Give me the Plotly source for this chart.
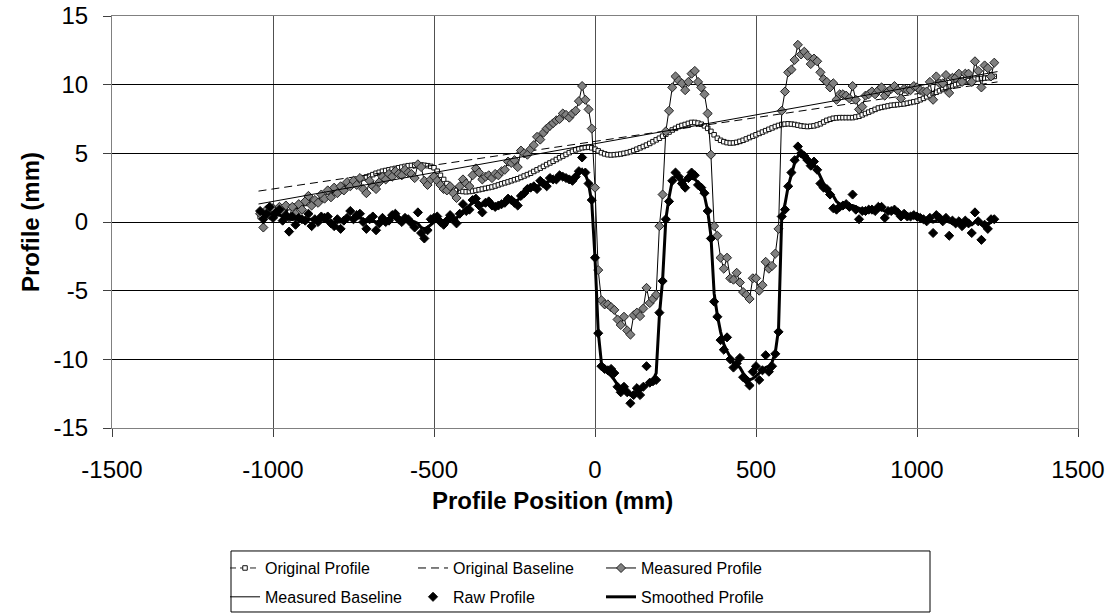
import plotly.graph_objects as go

# ---------------- data ----------------
profile_pos = list(range(-1040, 1250, 10))          # mm, sampling positions

measured_profile = [
    0.6, -0.4, 0.9, 0.5, 1.0, 0.6, 1.1, 0.7, 1.2, 0.3,
    1.1, 0.6, 1.3, 0.9, 1.5, 1.9, 1.2, 1.6, 1.4, 2.0,
    1.7, 2.3, 1.8, 2.5, 2.1, 2.6, 2.3, 2.9, 2.6, 3.0,
    2.7, 3.2, 2.4, 2.1, 3.0, 2.6, 2.4, 2.9, 3.3, 3.1,
    3.5, 3.3, 3.7, 3.5, 3.4, 3.8, 3.6, 3.5, 3.2, 4.2,
    4.0, 3.0, 2.7, 3.1, 3.3, 3.0, 2.7, 2.4, 2.3, 2.6,
    2.1, 1.75, 2.6, 3.1, 2.8, 2.6, 3.4, 3.9, 3.6, 3.1,
    3.3, 3.4, 3.2, 3.5, 3.4, 3.7, 3.8, 4.4, 4.3, 4.5,
    4.0, 5.2, 5.0, 4.9, 5.3, 5.6, 6.2, 6.0, 6.5, 6.8,
    7.0, 7.2, 7.4, 7.5, 7.9, 7.8, 7.6, 7.9, 8.1, 8.8,
    9.9, 8.9, 8.2, 6.8, 2.5, -3.5, -5.7, -6.0, -6.0, -6.2,
    -6.4, -7.1, -7.5, -6.9, -7.9, -8.2, -6.8, -6.6, -6.85, -6.3,
    -4.8, -5.9, -5.6, -5.3, -0.3, 2.0, 6.6, 8.1, 9.8, 10.6,
    10.3, 10.1, 9.6, 10.2, 10.8, 11.0, 10.2, 9.8, 9.3, 7.9,
    4.9, -0.3, -1.0, -2.6, -3.4, -2.6, -4.1, -4.2, -3.7, -4.4,
    -5.1, -5.3, -5.6, -4.1, -4.1, -5.0, -4.6, -2.9, -3.4, -3.2,
    -2.3, -0.5, 8.1, 9.5, 10.9, 11.1, 11.8, 12.9, 12.2, 12.4,
    12.1, 11.5, 11.9, 11.7, 10.9, 10.4, 10.2, 9.8, 10.1, 8.9,
    9.3, 9.3, 9.2, 9.0, 9.9, 8.9, 8.2, 8.4, 9.2, 9.3,
    9.5, 9.3, 9.6, 9.8, 9.2, 9.5, 9.7, 9.9, 9.6, 9.0,
    9.7, 9.6, 9.6, 9.9, 9.8, 9.6, 9.5, 9.5, 10.2, 8.9,
    10.6, 10.1, 10.1, 10.7, 9.4, 10.5, 10.5, 10.8, 10.2, 10.8,
    10.8, 10.2, 11.7, 11.0, 9.8, 11.4, 11.2, 10.6, 11.6,
]

raw_profile = [
    0.8, 0.2, 0.6, 1.1, 0.3, 0.7, 0.9, 0.1, 0.5, -0.7,
    0.4, -0.2, 0.3, 0.2, 0.1, 0.6, -0.3, 0.2, 0.0, 0.4,
    0.3, 0.4, -0.1, -0.3, 0.2, -0.5, 0.1, 0.3, 0.8, 0.2,
    0.5, 0.6, 0.0, -0.5, 0.2, 0.4, -0.6, -0.1, 0.3, 0.0,
    0.1, 0.5, 0.6, 0.2, 0.0, 0.3, 0.2, -0.1, -0.4, 0.7,
    -0.8, -1.2, -0.6, 0.2, 0.3, 0.4, 0.0, -0.2, 0.1, 0.5,
    0.2, -0.1, 0.6, 1.3, 0.8, 0.9, 1.6, 1.7, 1.2, 0.7,
    1.4, 1.5, 1.2, 1.1, 1.2, 1.3, 1.4, 1.7, 1.6, 1.4,
    1.2, 1.9, 2.1, 2.4, 2.5, 2.6, 2.4, 3.0, 2.8, 2.6,
    3.2, 3.1, 3.1, 3.4, 3.3, 3.2, 3.1, 3.0, 3.3, 3.7,
    4.7, 3.6, 2.8, 1.6, -2.6, -8.1, -10.5, -10.7, -10.8, -10.7,
    -11.0, -12.0, -12.4, -12.0, -12.4, -13.2, -12.6, -12.1, -12.6, -12.0,
    -10.5, -11.7, -11.6, -11.5, -6.6, -4.3, 0.2, 1.5, 3.0, 3.6,
    3.3, 2.8, 2.5, 3.2, 3.6, 3.4, 2.7, 2.5, 2.1, 0.8,
    -1.2, -5.8, -6.9, -8.6, -9.3, -8.4, -10.0, -10.6, -10.3, -9.9,
    -11.3, -11.5, -11.9, -10.9, -10.5, -11.5, -10.8, -9.7, -10.9, -10.5,
    -9.6, -8.0, 0.4, 0.9, 2.6, 3.6, 4.5, 5.5, 5.0, 4.8,
    4.5, 4.1, 4.4, 3.8, 2.8, 2.5, 2.4, 2.0, 1.0, 0.9,
    1.1, 1.2, 1.3, 1.1, 2.0, 0.9, 0.2, 0.8, 0.8, 0.9,
    0.9, 0.8, 1.1, 1.1, 0.3, 0.8, 0.8, 0.9, 0.7, 0.4,
    0.6, 0.4, 0.4, 0.5, 0.4, 0.3, 0.2, 0.05, 0.3, -0.8,
    0.5, 0.3, 0.05, 0.3, -1.0, 0.1, -0.1, 0.05, -0.3, 0.1,
    -0.1, -0.8, 0.7, 0.05, -1.3, -0.2, -0.5, 0.2, 0.2,
]

smoothed_profile = [
    0.6, 0.6, 0.6, 0.6, 0.6, 0.6, 0.5, 0.4, 0.3, 0.2,
    0.2, 0.2, 0.2, 0.2, 0.2, 0.2, 0.2, 0.2, 0.2, 0.2,
    0.1, 0.1, 0.0, 0.0, 0.0, 0.0, 0.1, 0.2, 0.3, 0.3,
    0.3, 0.3, 0.2, 0.1, 0.1, 0.1, 0.0, 0.0, 0.1, 0.1,
    0.2, 0.3, 0.3, 0.3, 0.2, 0.2, 0.1, 0.1, 0.0, -0.1,
    -0.4, -0.5, -0.4, -0.2, 0.0, 0.1, 0.1, 0.1, 0.1, 0.2,
    0.2, 0.3, 0.5, 0.8, 1.0, 1.2, 1.4, 1.4, 1.3, 1.2,
    1.3, 1.3, 1.3, 1.3, 1.3, 1.3, 1.4, 1.5, 1.5, 1.5,
    1.6, 1.8, 2.0, 2.3, 2.4, 2.5, 2.6, 2.7, 2.8, 2.9,
    3.0, 3.1, 3.2, 3.3, 3.3, 3.2, 3.2, 3.2, 3.3, 3.5,
    3.8, 3.5, 2.8, 1.4, -2.6, -8.0, -10.3, -10.8, -11.0, -11.2,
    -11.5, -11.9, -12.2, -12.3, -12.5, -12.6, -12.5, -12.4, -12.3, -12.1,
    -11.9, -11.7, -11.5, -11.0, -6.8, -4.2, 0.2, 1.8, 3.0, 3.4,
    3.3, 3.1, 3.0, 3.1, 3.2, 3.1, 2.9, 2.5, 1.9, 0.8,
    -1.0, -5.2, -6.8, -8.0, -8.9, -9.4, -9.9, -10.3, -10.4, -10.6,
    -11.0, -11.3, -11.5, -11.4, -11.2, -11.0, -10.8, -10.6, -10.5, -10.2,
    -9.5, -7.8, 0.4, 1.3, 2.6, 3.5, 4.3, 4.8, 4.9, 4.8,
    4.6, 4.4, 4.2, 3.8, 3.3, 2.8, 2.5, 2.2, 1.9, 1.5,
    1.3, 1.2, 1.2, 1.2, 1.2, 1.1, 1.0, 0.9, 0.8, 0.8,
    0.8, 0.8, 0.9, 0.9, 0.8, 0.8, 0.8, 0.7, 0.7, 0.6,
    0.5, 0.5, 0.4, 0.4, 0.4, 0.3, 0.2, 0.2, 0.1, 0.0,
    0.1, 0.2, 0.1, 0.1, 0.0, -0.1, -0.1, -0.1, -0.1, -0.1,
    -0.2, -0.2, 0.0, 0.0, -0.2, -0.3, -0.2, 0.0, 0.1,
]

original_profile = [
    0.4, 0.5, 0.6, 0.7, 0.8, 0.85, 0.9, 0.95, 1.0, 1.05,
    1.1, 1.15, 1.2, 1.28, 1.35, 1.4, 1.45, 1.5, 1.55, 1.65,
    1.75, 1.88, 2.0, 2.12, 2.25, 2.38, 2.5, 2.62, 2.75, 2.88,
    3.0, 3.1, 3.2, 3.28, 3.35, 3.45, 3.55, 3.62, 3.7, 3.75,
    3.8, 3.85, 3.9, 3.95, 4.0, 4.05, 4.1, 4.12, 4.15, 4.16,
    4.15, 4.13, 4.1, 4.05, 3.95, 3.7, 3.4, 3.1, 2.8, 2.58,
    2.4, 2.3, 2.25, 2.22, 2.2, 2.22, 2.25, 2.3, 2.35, 2.4,
    2.45, 2.5, 2.55, 2.62, 2.7, 2.78, 2.85, 2.92, 3.0, 3.08,
    3.15, 3.25, 3.35, 3.45, 3.55, 3.68, 3.8, 3.92, 4.05, 4.18,
    4.3, 4.42, 4.55, 4.68, 4.8, 4.92, 5.05, 5.15, 5.25, 5.33,
    5.4, 5.43, 5.45, 5.4, 5.3, 5.18, 5.05, 4.96, 4.9, 4.88,
    4.9, 4.92, 4.95, 5.0, 5.05, 5.12, 5.2, 5.3, 5.4, 5.5,
    5.6, 5.72, 5.85, 5.98, 6.1, 6.25, 6.4, 6.55, 6.7, 6.82,
    6.95, 7.03, 7.1, 7.18, 7.25, 7.25, 7.2, 7.12, 7.0, 6.82,
    6.6, 6.35, 6.1, 5.95, 5.85, 5.78, 5.75, 5.76, 5.8, 5.87,
    5.95, 6.05, 6.15, 6.25, 6.35, 6.45, 6.55, 6.65, 6.75, 6.85,
    6.95, 7.03, 7.1, 7.13, 7.15, 7.13, 7.1, 7.05, 7.0, 6.97,
    6.95, 6.97, 7.0, 7.07, 7.15, 7.28, 7.4, 7.48, 7.55, 7.58,
    7.6, 7.6, 7.6, 7.6, 7.6, 7.65, 7.7, 7.8, 7.9, 8.0,
    8.1, 8.2, 8.3, 8.35, 8.4, 8.45, 8.5, 8.52, 8.55, 8.58,
    8.6, 8.65, 8.7, 8.75, 8.8, 8.9, 9.0, 9.12, 9.25, 9.35,
    9.45, 9.55, 9.65, 9.75, 9.85, 9.92, 10.0, 10.08, 10.15, 10.22,
    10.3, 10.35, 10.4, 10.42, 10.45, 10.48, 10.5, 10.55, 10.6,
]

baseline_pos = [-1045, 1250]
original_baseline = [2.25, 10.2]
measured_baseline = [1.31, 10.95]

x_ticks = [-1500, -1000, -500, 0, 500, 1000, 1500]
x_tick_text = ["-1500", "-1000", "-500", "0", "500", "1000", "1500"]
y_ticks = [-15, -10, -5, 0, 5, 10, 15]
y_tick_text = ["-15", "-10", "-5", "0", "5", "10", "15"]

# ---------------- figure ----------------
FONT = "Liberation Sans, Arial, sans-serif"
fig = go.Figure()

fig.add_trace(go.Scatter(
    x=profile_pos, y=original_profile, name="Original Profile", mode="lines+markers",
    line=dict(color="#222222", width=1, dash="6px,4px"),
    marker=dict(symbol="square", size=4.5, color="white", line=dict(color="#111111", width=1)),
    legend="legend"))
fig.add_trace(go.Scatter(
    x=baseline_pos, y=original_baseline, name="Original Baseline", mode="lines",
    line=dict(color="black", width=1, dash="8px,5px"), legend="legend"))
fig.add_trace(go.Scatter(
    x=profile_pos, y=measured_profile, name="Measured Profile", mode="lines+markers",
    line=dict(color="black", width=1),
    marker=dict(symbol="diamond", size=7, color="#808080", line=dict(color="#222222", width=1)),
    legend="legend"))
fig.add_trace(go.Scatter(
    x=baseline_pos, y=measured_baseline, name="Measured Baseline", mode="lines",
    line=dict(color="black", width=1), legend="legend2"))
fig.add_trace(go.Scatter(
    x=profile_pos, y=raw_profile, name="Raw Profile", mode="markers",
    marker=dict(symbol="diamond", size=7, color="black", line=dict(color="black", width=1)),
    legend="legend2"))
fig.add_trace(go.Scatter(
    x=profile_pos, y=smoothed_profile, name="Smoothed Profile", mode="lines",
    line=dict(color="black", width=3), legend="legend2"))

axis_common = dict(
    showline=True, linecolor="#808080", linewidth=1, mirror=True,
    ticks="outside", ticklen=8, tickcolor="#404040", tickwidth=1,
    zeroline=False, showgrid=True, automargin=False, ticklabeloverflow="allow",
    tickfont=dict(family=FONT, size=24, color="black"),
)
fig.update_xaxes(range=[-1500, 1500], tickvals=x_ticks, ticktext=x_tick_text,
                 gridcolor="#505050", ticklabelstandoff=12, **axis_common)
fig.update_yaxes(range=[-15, 15], tickvals=y_ticks, ticktext=y_tick_text,
                 gridcolor="#000000", ticklabelstandoff=10, **axis_common)

legend_common = dict(
    orientation="h", xanchor="left", yanchor="middle",
    bgcolor="rgba(0,0,0,0)", borderwidth=0,
    font=dict(family=FONT, size=16, color="black"),
    entrywidth=143, entrywidthmode="pixels", itemwidth=30,
)

fig.update_layout(
    width=1105, height=615,
    margin=dict(l=112, r=27, t=16, b=187, autoexpand=False),
    plot_bgcolor="white", paper_bgcolor="white",
    font=dict(family=FONT, color="black"),
    showlegend=True,
    legend=dict(x=0.117, y=-0.340, **legend_common),
    legend2=dict(x=0.117, y=-0.410, **legend_common),
    shapes=[dict(type="rect", xref="paper", yref="paper",
                 x0=0.1232, x1=0.8468, y0=-0.4466, y1=-0.2985,
                 line=dict(color="black", width=1), fillcolor="rgba(0,0,0,0)")],
    annotations=[
        dict(text="<b>Profile Position (mm)</b>", xref="paper", yref="paper",
             x=0.4555, y=-0.175, xanchor="center", yanchor="middle", showarrow=False,
             font=dict(family=FONT, size=24, color="black")),
        dict(text="<b>Profile (mm)</b>", xref="paper", yref="paper",
             x=-0.0849, y=0.5, xanchor="center", yanchor="middle", showarrow=False,
             textangle=-90,
             font=dict(family=FONT, size=24, color="black")),
    ],
)

# remove the browser's default 8 px page margin so the figure fills the window
fig.write_html("out.html",
               config={"displayModeBar": False},
               post_script="document.body.style.margin='0';document.body.style.overflow='hidden';")
